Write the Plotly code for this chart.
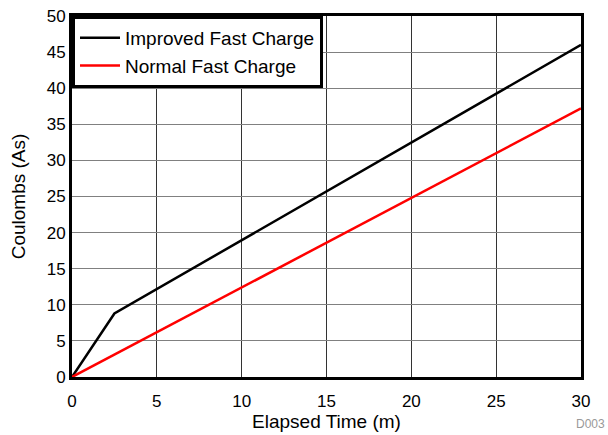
import plotly.graph_objects as go

time_improved = [0, 2.5, 30]
coulombs_improved = [0, 8.8, 46.0]
time_normal = [0, 30]
coulombs_normal = [0, 37.2]
x_ticks = [0, 5, 10, 15, 20, 25, 30]
y_ticks = [0, 5, 10, 15, 20, 25, 30, 35, 40, 45, 50]

fig = go.Figure()
fig.add_trace(go.Scatter(x=time_improved, y=coulombs_improved, mode="lines",
                         name="Improved Fast Charge", line=dict(color="black", width=2.5)))
fig.add_trace(go.Scatter(x=time_normal, y=coulombs_normal, mode="lines",
                         name="Normal Fast Charge", line=dict(color="#ff0000", width=2.5)))

fam = "Liberation Sans, Arial, sans-serif"
tick_font = dict(family=fam, size=17, color="black")
title_font = dict(family=fam, size=19, color="black")
fig.update_layout(
    width=608, height=435,
    margin=dict(l=72, r=27, t=16, b=58),
    paper_bgcolor="white", plot_bgcolor="white",
    font=tick_font,
    showlegend=True,
    legend=dict(x=0, y=1, xanchor="left", yanchor="top", bgcolor="white",
                bordercolor="black", borderwidth=3,
                font=dict(family=fam, size=19, color="black"),
                tracegroupgap=0, itemwidth=40),
    xaxis=dict(range=[0, 30], tickvals=x_ticks, showgrid=True, gridcolor="#333333", gridwidth=1,
               showline=True, linecolor="black", linewidth=3, mirror=True, zeroline=False,
               ticks="", ticklen=0, automargin=False, tickfont=tick_font, ticklabelstandoff=7,
               title=dict(text="Elapsed Time (m)", standoff=5, font=title_font)),
    yaxis=dict(range=[0, 50], tickvals=y_ticks, showgrid=True, gridcolor="#808080", gridwidth=1,
               showline=True, linecolor="black", linewidth=3, mirror=True, zeroline=False,
               ticks="", ticklen=0, automargin=False, tickfont=tick_font,
               title=dict(text="Coulombs (As)", standoff=17, font=title_font)),
)
fig.add_annotation(text="D003", xref="paper", yref="paper", x=1.0, y=0, xanchor="right",
                   yanchor="top", xshift=26, yshift=-38, showarrow=False,
                   font=dict(family=fam, size=12, color="#999999"))
fig.write_html("out.html", config={"displayModeBar": False},
               post_script="document.body.style.margin='0';document.body.style.overflow='hidden';")
